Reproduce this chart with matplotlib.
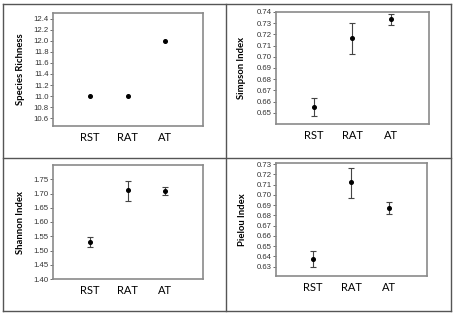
import numpy as np
import matplotlib.pyplot as plt
from matplotlib.lines import Line2D

groups = ["RST", "RAT", "AT"]

richness = [11.0, 11.0, 12.0]

simpson = [0.655, 0.7165, 0.7335]
simpson_lo = [0.647, 0.7025, 0.728]
simpson_hi = [0.663, 0.730, 0.738]

shannon = [1.531, 1.711, 1.708]
shannon_lo = [1.512, 1.675, 1.695]
shannon_hi = [1.549, 1.745, 1.723]

pielou = [0.638, 0.7125, 0.687]
pielou_lo = [0.630, 0.6965, 0.681]
pielou_hi = [0.6455, 0.7265, 0.693]

W, H = 454, 314
fig = plt.figure(figsize=(W / 100, H / 100), dpi=100)


def box(left, right, top, bottom):
    # pixel box -> figure fraction rect
    return [left / W, 1 - bottom / H, (right - left) / W, (bottom - top) / H]


def panel(rect, y, lo, hi, ylabel, ylim, ticks, fmt, lab_x):
    ax = fig.add_axes(rect)
    x = np.arange(1, len(groups) + 1)
    if lo is not None:
        y = np.array(y)
        err = [y - np.array(lo), np.array(hi) - y]
        ax.errorbar(x, y, yerr=err, fmt="none", ecolor="#444444",
                    elinewidth=0.8, capsize=2, capthick=0.8)
    ax.plot(x, y, "o", color="black", markersize=2.6)
    ax.set_xlim(0.02, 4.0)
    ax.set_ylim(*ylim)
    ax.set_yticks(ticks)
    ax.set_yticklabels([fmt.format(t) for t in ticks],
                       family="Liberation Sans", fontsize=5.6, color="#333333")
    ax.set_xticks(x)
    ax.set_xticklabels(groups, family="Lato", fontsize=8)
    ax.tick_params(axis="x", length=0, pad=4)
    ax.tick_params(axis="y", length=2, width=0.6, color="#555555", pad=1)
    for s in ax.spines.values():
        s.set_color("#8a8a8a")
        s.set_linewidth(1.2)
    ax.set_ylabel(ylabel, family="Lato", fontsize=6.8, fontweight="bold")
    ax.yaxis.set_label_coords(lab_x, 0.5)
    return ax


panel(box(53, 203, 13, 126), richness, None, None, "Species Richness",
      (10.46, 12.50), np.arange(10.6, 12.41, 0.2), "{:.1f}", -0.185)
panel(box(276, 429, 12, 124), simpson, simpson_lo, simpson_hi, "Simpson Index",
      (0.640, 0.740), np.arange(0.65, 0.7401, 0.01), "{:.2f}", -0.195)
panel(box(53, 203, 165, 279), shannon, shannon_lo, shannon_hi, "Shannon Index",
      (1.40, 1.80), np.arange(1.40, 1.751, 0.05), "{:.2f}", -0.185)
panel(box(276, 427, 163, 276), pielou, pielou_lo, pielou_hi, "Pielou Index",
      (0.621, 0.731), np.arange(0.63, 0.7301, 0.01), "{:.2f}", -0.195)

# table grid around the four panels
x0, x1, xm = 3 / W, 451 / W, 226 / W
y0, y1, ym = 1 - 311 / H, 1 - 4 / H, 1 - 158 / H
for xs, ys in [([x0, x1], [y0, y0]), ([x0, x1], [y1, y1]), ([x0, x1], [ym, ym]),
               ([x0, x0], [y0, y1]), ([x1, x1], [y0, y1]), ([xm, xm], [y0, y1])]:
    fig.add_artist(Line2D(xs, ys, color="#555555", linewidth=1))

fig.savefig("out.png", dpi=100)
